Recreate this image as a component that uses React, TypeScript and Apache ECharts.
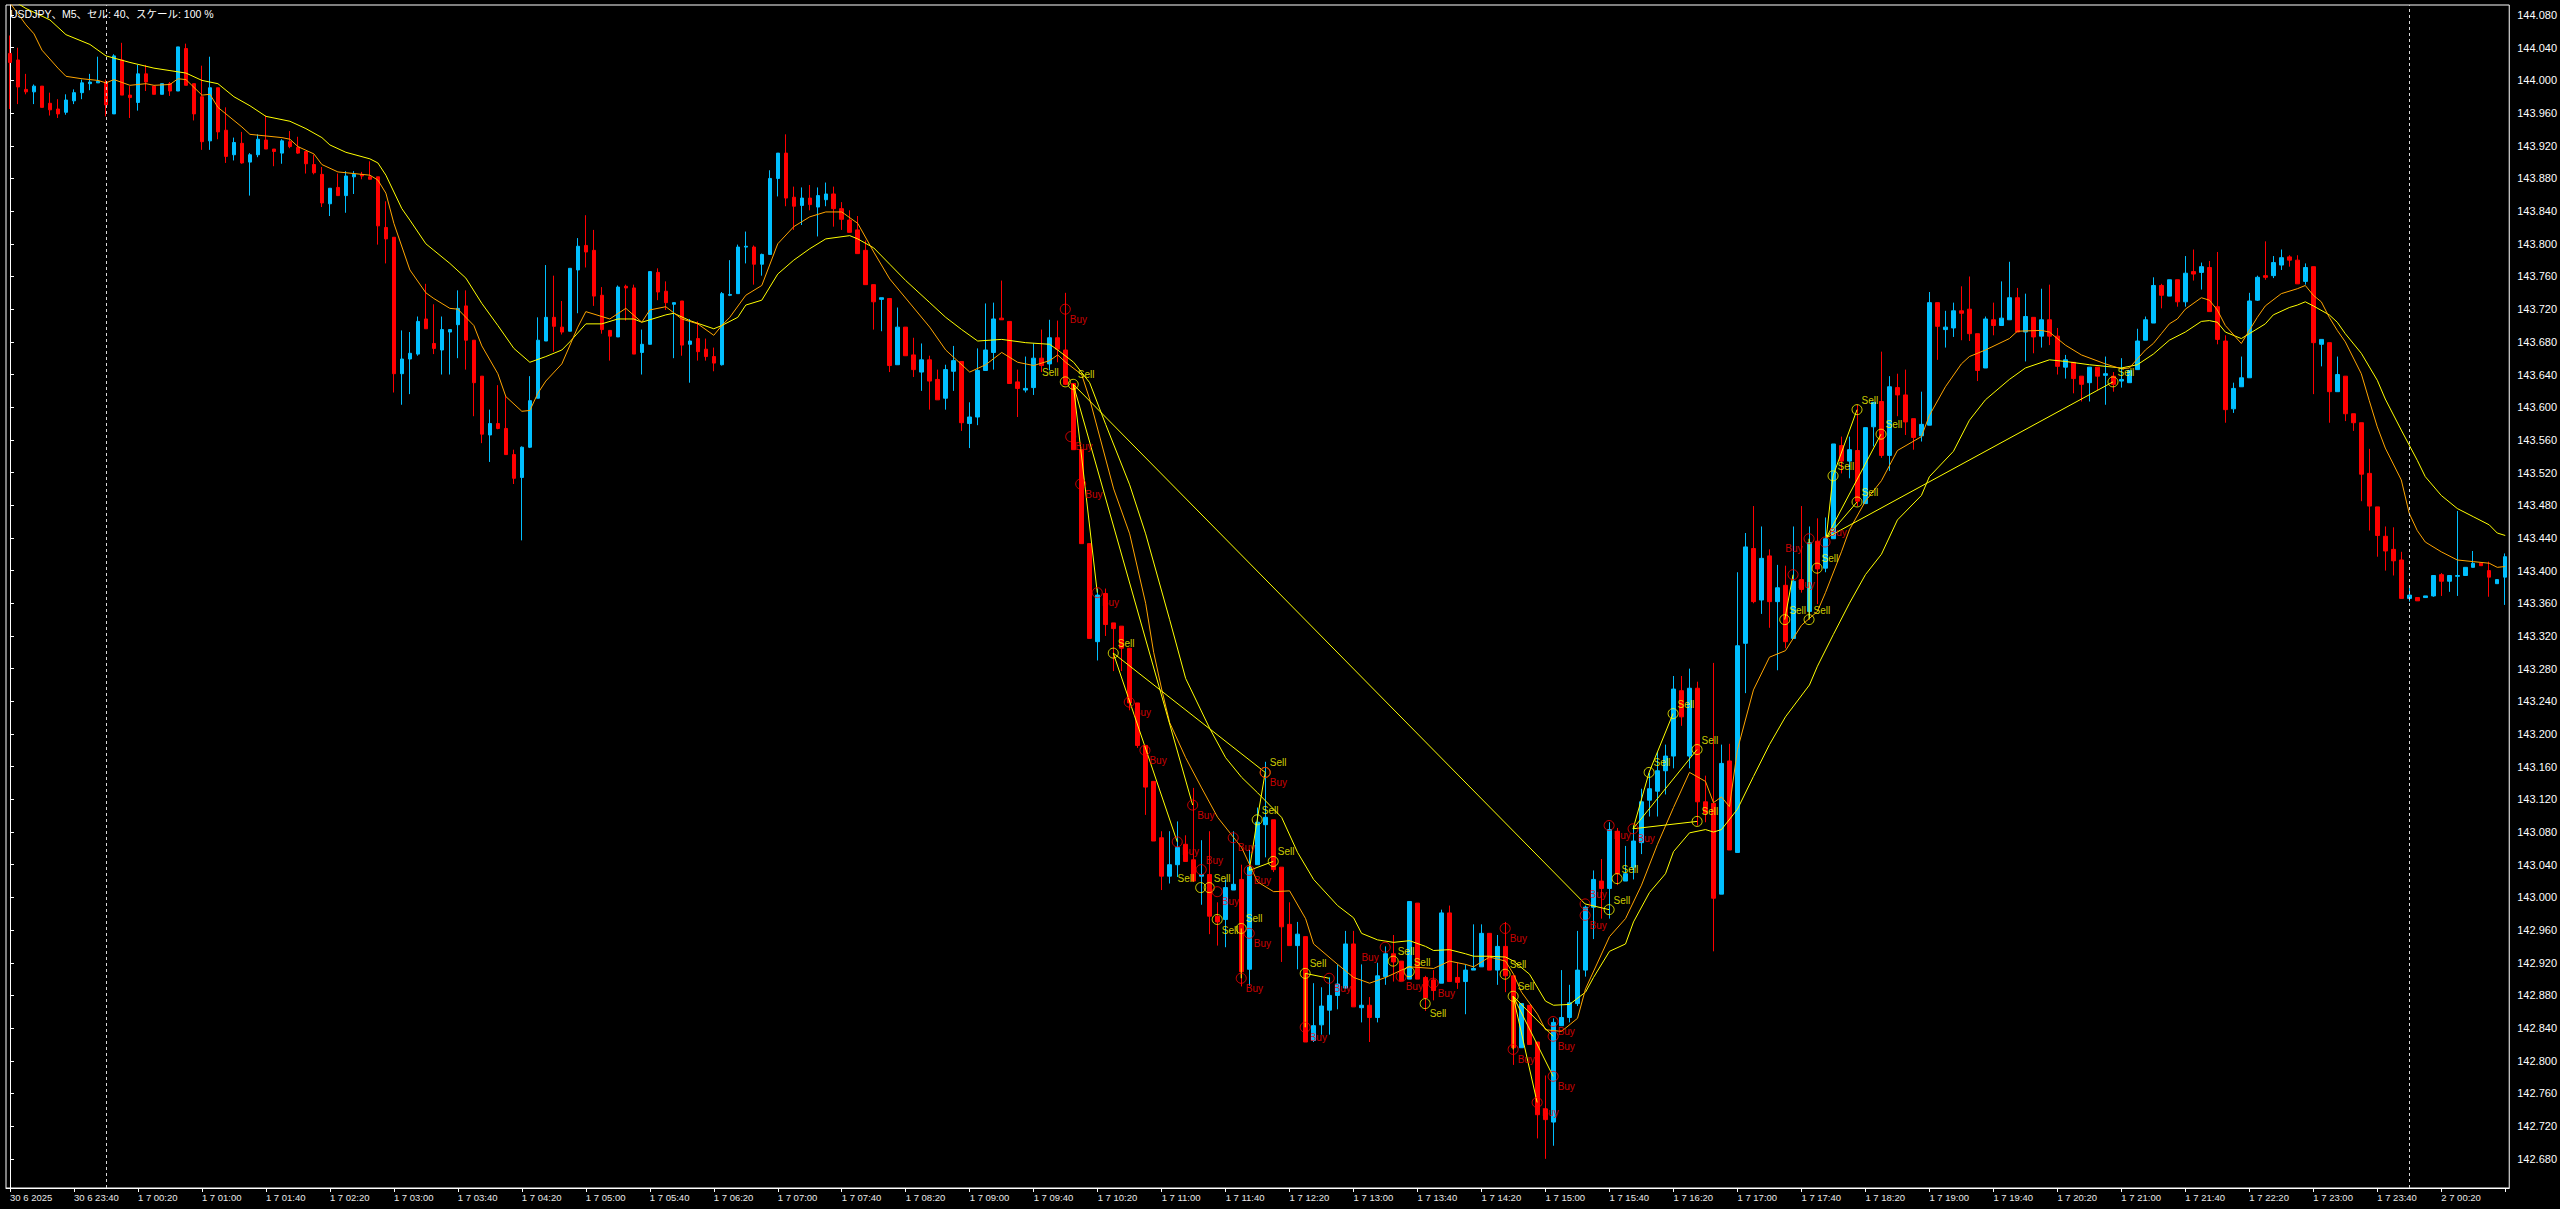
import React, { useEffect, useRef } from "react";
import * as echarts from "echarts";

// ---------- DATA ----------
const OPEN = [
144.033,144.025,143.989,143.986,143.993,143.972,143.965,143.961,143.975,143.985,143.996,143.997,143.998,143.959,144.025,143.982,143.973,144.008,143.993,143.983,
143.996,143.987,144.039,143.996,143.980,143.926,143.991,143.939,143.909,143.923,143.900,143.909,143.927,143.916,143.911,143.925,143.918,143.913,143.897,143.885,
143.849,143.869,143.859,143.882,143.885,143.882,143.882,143.820,143.808,143.641,143.659,143.665,143.708,143.678,143.670,143.692,143.701,143.724,143.682,143.638,
143.566,143.580,143.574,143.542,143.514,143.551,143.611,143.681,143.710,143.698,143.693,143.768,143.798,143.792,143.737,143.694,143.686,143.748,143.746,143.667,
143.677,143.765,143.742,143.726,143.730,143.677,143.684,143.671,143.662,143.652,143.737,143.739,143.796,143.796,143.775,143.787,143.880,143.911,143.857,143.847,
143.856,143.845,143.854,143.861,143.843,143.829,143.817,143.792,143.750,143.732,143.733,143.652,143.698,143.664,143.643,143.658,143.634,143.611,143.644,143.656,
143.580,143.588,143.645,143.667,143.709,143.705,143.631,143.621,143.624,143.660,143.653,143.685,143.670,143.629,143.548,143.433,143.313,143.372,143.336,143.332,
143.305,143.238,143.186,143.142,143.073,143.026,143.040,143.065,143.046,143.026,143.028,142.977,142.973,143.009,143.022,142.912,143.040,143.089,143.095,143.037,
142.967,142.941,142.952,142.825,142.844,142.862,142.880,142.889,142.943,142.865,142.868,142.853,142.903,142.931,142.922,142.900,142.993,142.902,142.899,142.895,
142.981,142.902,142.897,142.911,142.915,142.956,142.911,142.940,142.904,142.816,142.868,142.823,142.741,142.725,142.843,142.853,142.870,142.911,142.988,143.020,
143.011,143.081,143.020,143.037,143.067,143.119,143.130,143.155,143.173,143.253,143.173,143.256,143.117,143.115,143.004,143.167,143.055,143.311,143.427,143.364,
143.418,143.362,143.382,143.317,143.389,143.350,143.436,143.403,143.439,143.553,143.534,143.547,143.482,143.576,143.607,143.541,143.624,143.615,143.586,143.565,
143.578,143.728,143.695,143.697,143.718,143.720,143.690,143.648,143.707,143.700,143.707,143.734,143.692,143.710,143.687,143.707,143.687,143.649,143.655,143.638,
143.630,143.649,143.639,143.638,143.632,143.630,143.646,143.682,143.703,143.749,143.736,143.756,143.729,143.766,143.765,143.771,143.723,143.681,143.598,143.625,
143.636,143.731,143.761,143.761,143.774,143.784,143.780,143.754,143.772,143.677,143.679,143.619,143.638,143.592,143.581,143.519,143.478,143.442,143.426,143.413,
143.366,143.367,143.367,143.369,143.395,143.387,143.393,143.394,143.404,143.409,143.400,143.384,143.392
];
const CLOSE = [
144.022,143.992,143.986,143.993,143.967,143.964,143.959,143.976,143.985,143.997,143.998,143.999,143.970,144.030,143.982,143.979,144.008,143.998,143.983,143.996,
143.987,144.041,143.994,143.959,143.925,143.991,143.937,143.907,143.924,143.899,143.909,143.928,143.916,143.913,143.926,143.919,143.911,143.898,143.887,143.850,
143.868,143.859,143.883,143.885,143.883,143.879,143.822,143.806,143.641,143.659,143.666,143.705,143.696,143.672,143.695,143.695,143.721,143.682,143.630,143.567,
143.580,143.574,143.542,143.513,143.551,143.608,143.682,143.710,143.699,143.692,143.770,143.797,143.790,143.736,143.695,143.687,143.747,143.746,143.665,143.677,
143.766,143.741,143.728,143.728,143.676,143.681,143.668,143.662,143.654,143.739,143.738,143.796,143.797,143.775,143.787,143.880,143.911,143.856,143.846,143.856,
143.848,143.859,143.861,143.843,143.830,143.814,143.788,143.750,143.729,143.734,143.651,143.698,143.663,143.646,143.658,143.632,143.609,143.646,143.657,143.581,
143.588,143.645,143.670,143.708,143.707,143.629,143.623,143.623,143.660,143.651,143.685,143.671,143.628,143.548,143.433,143.317,143.370,143.334,143.329,143.305,
143.238,143.186,143.135,143.069,143.026,143.040,143.061,143.044,143.020,143.028,142.977,142.970,143.012,143.016,142.909,143.037,143.092,143.098,143.034,142.964,
142.941,142.955,142.823,142.843,142.867,142.880,142.894,142.943,142.866,142.868,142.853,142.904,142.931,142.921,142.898,142.995,142.900,142.877,142.886,142.981,
142.897,142.896,142.911,142.913,142.956,142.911,142.940,142.904,142.816,142.870,142.820,142.734,142.728,142.847,142.853,142.871,142.911,142.988,143.022,143.011,
143.083,143.029,143.029,143.069,143.117,143.133,143.155,143.173,143.255,143.221,143.256,143.117,143.103,142.999,143.164,143.058,143.308,143.429,143.362,143.415,
143.362,143.379,143.313,143.387,143.377,143.434,143.402,143.439,143.555,143.534,143.548,143.485,143.575,143.606,143.541,143.625,143.615,143.582,143.563,143.579,
143.728,143.699,143.698,143.718,143.715,143.690,143.645,143.708,143.700,143.709,143.734,143.692,143.711,143.686,143.707,143.687,143.650,143.658,143.635,143.628,
143.649,143.638,143.641,143.628,143.634,143.645,143.681,143.707,143.749,143.737,143.756,143.729,143.764,143.763,143.772,143.717,143.683,143.597,143.623,143.636,
143.730,143.759,143.759,143.777,143.783,143.780,143.751,143.771,143.679,143.683,143.619,143.640,143.592,143.581,143.518,143.479,143.443,143.424,143.412,143.366,
143.370,143.363,143.369,143.394,143.387,143.394,143.394,143.404,143.409,143.406,143.392,143.389,143.417
];
const LOW = [
143.965,143.971,143.983,143.971,143.967,143.957,143.954,143.958,143.971,143.977,143.988,143.997,143.956,143.959,143.982,143.954,143.963,143.987,143.983,143.983,
143.981,143.987,143.994,143.951,143.915,143.915,143.928,143.899,143.902,143.898,143.859,143.906,143.916,143.895,143.898,143.917,143.910,143.886,143.885,143.845,
143.834,143.859,143.838,143.861,143.879,143.879,143.799,143.776,143.618,143.603,143.616,143.663,143.696,143.665,143.640,143.640,143.660,143.646,143.589,143.556,
143.533,143.573,143.542,143.506,143.437,143.550,143.611,143.681,143.668,143.689,143.693,143.715,143.771,143.724,143.690,143.657,143.686,143.706,143.665,143.640,
143.677,143.731,143.719,143.660,143.663,143.630,143.657,143.657,143.644,143.651,143.736,143.739,143.776,143.750,143.761,143.787,143.858,143.846,143.817,143.823,
143.841,143.809,143.846,143.821,143.817,143.814,143.788,143.750,143.695,143.693,143.643,143.652,143.663,143.637,143.620,143.597,143.609,143.597,143.620,143.571,
143.550,143.578,143.645,143.646,143.707,143.629,143.588,143.618,143.615,143.643,143.645,143.655,143.627,143.548,143.433,143.317,143.290,143.320,143.277,143.277,
143.229,143.183,143.101,143.069,143.009,143.017,143.025,143.044,143.020,142.991,142.955,142.941,142.939,143.009,142.891,142.892,143.040,143.049,143.031,142.921,
142.941,142.912,142.823,142.823,142.832,142.832,142.863,142.889,142.866,142.847,142.823,142.847,142.893,142.897,142.898,142.900,142.900,142.861,142.874,142.895,
142.897,142.888,142.857,142.911,142.915,142.911,142.893,142.884,142.795,142.816,142.820,142.705,142.680,142.696,142.843,142.847,142.867,142.903,142.949,142.974,
142.974,143.015,143.020,143.022,143.053,143.099,143.099,143.126,143.158,143.210,143.158,143.088,143.092,142.934,143.004,143.058,143.055,143.250,143.360,143.347,
143.330,143.278,143.305,143.317,143.373,143.342,143.359,143.398,143.439,143.519,143.513,143.479,143.482,143.552,143.538,143.522,143.589,143.566,143.548,143.558,
143.578,143.658,143.673,143.686,143.682,143.681,143.632,143.648,143.688,143.700,143.707,143.692,143.656,143.666,143.673,143.676,143.640,143.635,143.617,143.607,
143.607,143.621,143.603,143.619,143.624,143.630,143.646,143.682,143.703,143.721,143.736,143.723,143.723,143.755,143.744,143.717,143.677,143.581,143.593,143.625,
143.636,143.730,143.756,143.758,143.768,143.772,143.751,143.750,143.616,143.650,143.581,143.619,143.583,143.571,143.485,143.449,143.417,143.400,143.394,143.366,
143.362,143.363,143.367,143.368,143.369,143.374,143.369,143.394,143.404,143.406,143.368,143.384,143.358
];
const HIGH = [
144.055,144.040,144.008,143.995,143.993,143.985,143.977,143.983,143.989,144.001,144.008,144.029,144.001,144.032,144.046,143.993,144.019,144.019,143.993,143.996,
143.998,144.041,144.045,143.996,144.018,144.029,143.991,143.967,143.930,143.937,143.911,143.934,143.957,143.916,143.928,143.938,143.931,143.913,143.909,143.894,
143.868,143.886,143.889,143.889,143.888,143.901,143.882,143.852,143.808,143.694,143.692,143.711,143.751,143.726,143.711,143.695,143.743,143.743,143.682,143.638,
143.597,143.627,143.615,143.548,143.552,143.638,143.710,143.774,143.761,143.730,143.770,143.807,143.835,143.817,143.747,143.694,143.749,143.750,143.750,143.695,
143.766,143.770,143.754,143.728,143.730,143.708,143.705,143.684,143.673,143.741,143.780,143.799,143.815,143.798,143.788,143.890,143.911,143.934,143.870,143.869,
143.872,143.869,143.875,143.870,143.851,143.841,143.834,143.804,143.750,143.734,143.733,143.722,143.698,143.685,143.678,143.663,143.646,143.652,143.675,143.656,
143.606,143.672,143.727,143.728,143.755,143.705,143.646,143.662,143.678,143.695,143.707,143.706,143.740,143.629,143.548,143.433,143.378,143.378,143.336,143.332,
143.305,143.238,143.186,143.142,143.081,143.081,143.093,143.076,143.134,143.070,143.081,142.994,143.022,143.081,143.040,143.058,143.110,143.166,143.095,143.037,
142.994,142.970,142.952,142.895,142.890,142.902,142.918,142.959,142.959,142.918,142.878,142.920,142.940,142.954,142.922,142.995,142.993,142.904,142.911,142.985,
142.990,142.920,142.918,142.967,142.967,142.956,142.954,142.970,142.904,142.870,142.868,142.823,142.782,142.852,142.911,142.893,142.959,142.990,143.033,143.047,
143.092,143.085,143.063,143.088,143.133,143.153,143.178,143.187,143.271,143.271,143.280,143.264,143.149,143.287,143.187,143.188,143.398,143.446,143.479,143.454,
143.426,143.407,143.406,143.454,143.479,143.454,143.464,143.465,143.555,143.564,143.564,143.603,143.575,143.606,143.668,143.638,143.641,143.646,143.586,143.619,
143.741,143.728,143.718,143.728,143.748,143.760,143.690,143.711,143.728,143.754,143.778,143.746,143.739,143.710,143.745,143.750,143.697,143.664,143.655,143.638,
143.649,143.649,143.662,143.643,143.660,143.645,143.696,143.711,143.759,143.751,143.756,143.756,143.785,143.793,143.777,143.779,143.790,143.688,143.630,143.662,
143.740,143.761,143.803,143.785,143.793,143.786,143.786,143.776,143.772,143.683,143.679,143.662,143.638,143.592,143.581,143.549,143.478,143.454,143.453,143.423,
143.381,143.367,143.369,143.394,143.397,143.394,143.473,143.404,143.424,143.409,143.411,143.389,143.421
];

// one label every 8 bars (bar 0, 8, 16, ...)
const LABEL_STEP = 8;
const TIME_LABELS = [
  "30 6 2025", "30 6 23:40", "1 7 00:20", "1 7 01:00", "1 7 01:40", "1 7 02:20", "1 7 03:00", "1 7 03:40",
  "1 7 04:20", "1 7 05:00", "1 7 05:40", "1 7 06:20", "1 7 07:00", "1 7 07:40", "1 7 08:20", "1 7 09:00",
  "1 7 09:40", "1 7 10:20", "1 7 11:00", "1 7 11:40", "1 7 12:20", "1 7 13:00", "1 7 13:40", "1 7 14:20",
  "1 7 15:00", "1 7 15:40", "1 7 16:20", "1 7 17:00", "1 7 17:40", "1 7 18:20", "1 7 19:00", "1 7 19:40",
  "1 7 20:20", "1 7 21:00", "1 7 21:40", "1 7 22:20", "1 7 23:00", "1 7 23:40", "2 7 00:20"
];
const PRICE_TICKS = [
  142.68, 142.72, 142.76, 142.80, 142.84, 142.88, 142.92, 142.96, 143.00, 143.04, 143.08, 143.12,
  143.16, 143.20, 143.24, 143.28, 143.32, 143.36, 143.40, 143.44, 143.48, 143.52, 143.56, 143.60,
  143.64, 143.68, 143.72, 143.76, 143.80, 143.84, 143.88, 143.92, 143.96, 144.00, 144.04, 144.08
];
const Y_MIN = 142.6443;
const Y_MAX = 144.0923;
const DAY_SEPARATORS = [12, 300];

// moving averages: [bar index, value]
const MA_SLOW = [
[0,144.100],[2,144.088],[5,144.074],[7,144.056],[10,144.044],[12,144.030],[15,144.022],[18,144.015],[20,144.012],[22,144.009],[24,144.000],[26,143.996],[28,143.980],[30,143.969],[32,143.956],[35,143.950],[37,143.941],[39,143.930],[40,143.921],[42,143.912],[45,143.904],[46,143.899],[47,143.884],[49,143.843],[50,143.829],[52,143.800],[53,143.792],[55,143.776],[57,143.758],[59,143.727],[61,143.700],[63,143.672],[65,143.655],[67,143.662],[69,143.670],[70,143.680],[72,143.702],[74,143.702],[76,143.708],[78,143.708],[79,143.704],[82,143.713],[83,143.715],[85,143.706],[88,143.696],[89,143.700],[91,143.710],[92,143.725],[94,143.731],[96,143.763],[98,143.780],[100,143.794],[102,143.806],[105,143.810],[106,143.806],[108,143.795],[110,143.775],[112,143.755],[115,143.728],[117,143.710],[119,143.695],[121,143.681],[124,143.683],[127,143.679],[130,143.677],[131,143.670],[133,143.655],[135,143.630],[137,143.579],[140,143.505],[142,143.445],[145,143.340],[147,143.268],[150,143.207],[152,143.171],[154,143.147],[156,143.128],[159,143.098],[161,143.055],[163,143.022],[166,142.990],[168,142.975],[169,142.956],[171,142.948],[173,142.945],[175,142.947],[177,142.940],[178,142.935],[180,142.936],[182,142.931],[183,142.928],[185,142.928],[187,142.927],[188,142.922],[190,142.906],[192,142.873],[193,142.868],[195,142.869],[197,142.884],[198,142.902],[200,142.934],[202,142.943],[203,142.970],[205,143.006],[207,143.029],[208,143.056],[210,143.079],[212,143.083],[213,143.080],[214,143.083],[216,143.108],[218,143.148],[220,143.187],[222,143.221],[225,143.260],[226,143.283],[228,143.322],[230,143.360],[232,143.395],[234,143.420],[236,143.462],[239,143.492],[240,143.515],[243,143.546],[245,143.584],[247,143.609],[250,143.634],[252,143.648],[255,143.658],[257,143.656],[260,143.652],[262,143.650],[264,143.648],[266,143.652],[268,143.665],[270,143.682],[272,143.692],[274,143.705],[275,143.706],[276,143.704],[277,143.692],[279,143.684],[280,143.690],[282,143.702],[283,143.713],[285,143.722],[286,143.725],[287,143.729],[288,143.724],[290,143.713],[291,143.704],[292,143.690],[294,143.666],[296,143.633],[297,143.610],[299,143.572],[301,143.535],[302,143.515],[304,143.492],[306,143.476],[308,143.466],[310,143.456],[311,143.446],[312,143.443]
];
const MA_FAST = [
[0,144.095],[2,144.068],[3,144.057],[4,144.037],[6,144.015],[7,144.005],[9,144.002],[11,144.000],[12,143.997],[13,144.001],[15,143.994],[17,143.996],[18,143.994],[20,143.995],[21,144.002],[22,144.001],[24,143.982],[25,143.983],[26,143.967],[29,143.943],[30,143.934],[34,143.930],[35,143.928],[36,143.919],[38,143.910],[39,143.897],[41,143.888],[45,143.884],[46,143.878],[47,143.862],[48,143.825],[50,143.768],[52,143.740],[53,143.733],[55,143.721],[56,143.720],[58,143.700],[59,143.675],[61,143.641],[62,143.613],[64,143.595],[65,143.596],[66,143.617],[67,143.632],[69,143.653],[71,143.698],[72,143.717],[75,143.708],[77,143.721],[79,143.704],[80,143.719],[82,143.723],[84,143.708],[86,143.702],[88,143.688],[89,143.700],[90,143.710],[92,143.737],[94,143.749],[96,143.800],[98,143.821],[100,143.833],[102,143.839],[104,143.839],[106,143.825],[108,143.790],[110,143.757],[115,143.698],[117,143.670],[120,143.643],[122,143.652],[124,143.667],[126,143.655],[128,143.651],[130,143.657],[131,143.664],[132,143.655],[134,143.640],[135,143.610],[138,143.500],[140,143.445],[142,143.360],[143,143.300],[144,143.255],[145,143.214],[147,143.171],[149,143.134],[151,143.098],[154,143.061],[156,143.019],[158,143.007],[160,143.008],[162,142.974],[163,142.943],[166,142.918],[168,142.902],[170,142.895],[172,142.902],[174,142.911],[175,142.915],[178,142.913],[180,142.922],[182,142.918],[183,142.915],[185,142.927],[187,142.922],[188,142.906],[189,142.884],[191,142.857],[192,142.838],[194,142.836],[196,142.852],[197,142.888],[200,142.952],[202,142.974],[204,143.015],[206,143.065],[208,143.110],[210,143.153],[212,143.142],[213,143.116],[214,143.123],[215,143.111],[216,143.181],[218,143.254],[220,143.294],[222,143.302],[224,143.333],[226,143.350],[227,143.373],[229,143.423],[230,143.450],[232,143.485],[234,143.510],[236,143.547],[239,143.564],[240,143.590],[242,143.625],[244,143.653],[245,143.662],[247,143.670],[250,143.684],[251,143.693],[254,143.694],[255,143.692],[257,143.676],[259,143.664],[262,143.653],[264,143.647],[265,143.648],[267,143.670],[268,143.678],[269,143.690],[270,143.702],[271,143.708],[272,143.720],[274,143.734],[275,143.731],[276,143.719],[277,143.700],[279,143.678],[280,143.694],[281,143.710],[282,143.724],[284,143.739],[286,143.745],[287,143.749],[288,143.737],[289,143.729],[290,143.710],[291,143.694],[292,143.680],[294,143.641],[295,143.608],[296,143.576],[297,143.550],[299,143.511],[300,143.470],[301,143.449],[302,143.435],[304,143.423],[306,143.413],[308,143.411],[310,143.409],[311,143.404],[312,143.405]
];

// signal markers: [bar position, price]
const BUY_POINTS = [
[131.95,143.720],[132.63,143.564],[133.88,143.506],[135.95,143.373],[139.95,143.239],[141.91,143.180],[145.95,143.068],[147.88,143.113],[148.95,143.034],[150.95,143.007],[152.95,143.073],[153.95,142.901],[154.95,143.033],[154.95,142.956],[156.95,143.153],[161.95,142.841],[164.95,142.901],[171.95,142.939],[173.95,142.903],[177.95,142.895],[186.95,142.962],[187.95,142.814],[190.95,142.749],[192.95,142.848],[192.95,142.830],[192.95,142.781],[196.95,142.992],[196.95,142.978],[199.95,143.088],[202.95,143.084],[222.95,143.395],[224.95,143.439],[226.95,143.435]
];
const SELL_POINTS = [
[131.95,143.631],[132.95,143.628],[137.95,143.299],[148.88,143.012],[149.95,143.012],[150.95,142.973],[153.95,142.962],[155.95,143.095],[156.95,143.153],[157.95,143.044],[161.95,142.907],[172.95,142.922],[174.95,142.909],[176.95,142.870],[186.95,142.906],[187.95,142.879],[199.95,142.985],[200.95,143.023],[204.95,143.153],[207.95,143.225],[210.95,143.181],[210.95,143.093],[221.91,143.340],[224.95,143.340],[225.95,143.403],[227.95,143.516],[230.95,143.597],[233.95,143.567],[230.95,143.484],[262.95,143.631]
];
// straight signal lines (polylines of [bar position, price])
const SIGNAL_LINES = [
[[132.95,143.628],[196.95,142.992]],
[[132.95,143.628],[135.95,143.373]],
[[132.95,143.628],[147.88,143.113]],
[[137.95,143.299],[145.95,143.068]],
[[137.95,143.299],[156.95,143.153]],
[[153.95,142.962],[153.95,142.901]],
[[154.95,143.033],[155.95,143.095],[156.95,143.153]],
[[154.95,143.033],[157.95,143.044]],
[[161.95,142.907],[161.95,142.841]],
[[161.95,142.907],[164.95,142.901]],
[[187.95,142.879],[190.95,142.749]],
[[187.95,142.879],[192.95,142.781]],
[[187.95,142.879],[192.95,142.830]],
[[187.95,142.879],[187.95,142.814]],
[[196.95,142.992],[199.95,142.985]],
[[202.95,143.084],[204.95,143.153],[207.95,143.225]],
[[202.95,143.084],[210.95,143.181]],
[[202.95,143.084],[210.95,143.093]],
[[227.1,143.440],[227.95,143.516],[230.95,143.597]],
[[227.1,143.440],[233.95,143.567]],
[[227.1,143.440],[230.95,143.484]],
[[227.1,143.440],[262.95,143.631]],
[[222.95,143.395],[221.91,143.340]],
[[224.95,143.439],[224.95,143.340]]
];

// ---------- STYLE ----------
const FONT = '"Liberation Sans", Arial, "Noto Sans CJK JP", sans-serif';
// label placements relative to the 10px marker box
const PLACE: Record<string, { position: number[]; align: string }> = {
  rightAbove: { position: [10, -4], align: "left" },
  rightBelow: { position: [10, 15.5], align: "left" },
  rightBelowFar: { position: [10, 17], align: "left" },
  leftAbove: { position: [-1, -4], align: "right" },
  leftBelow: { position: [-1, 15.5], align: "right" },
};
// per-marker placement overrides (by index) so that crowded labels do not collide
const SELL_PLACE_OVERRIDE: Record<number, string> = { 0: "leftAbove", 3: "leftAbove", 5: "rightBelowFar", 13: "rightBelow" };
const BUY_PLACE_OVERRIDE: Record<number, string> = { 8: "rightAbove", 17: "leftBelow", 26: "rightAbove", 31: "leftBelow", 32: "rightAbove" };

function markerData(points: number[][], defPlace: string, overrides: Record<number, string>) {
  return points.map((p, i) => {
    const pl = PLACE[overrides[i] ?? defPlace];
    return { value: p, label: { position: pl.position, align: pl.align } };
  });
}

export default function App() {
  const ref = useRef<HTMLDivElement>(null);
  useEffect(() => {
    document.body.style.margin = "0";
    document.body.style.background = "#000";
    const chart = echarts.init(ref.current as HTMLDivElement, null, { renderer: "svg" });
    const n = OPEN.length;
    const categories = OPEN.map((_, i) => String(i));
    const candles = OPEN.map((o, i) => [o, CLOSE[i], LOW[i], HIGH[i]]);
    const showEvery = (idx: number) => idx % LABEL_STEP === 0;

    chart.setOption({
      animation: false,
      backgroundColor: "#000000",
      graphic: [
        {
          type: "text",
          left: 10,
          top: 9,
          z: 100,
          style: {
            text: "USDJPY、M5、セル: 40、スケール: 100 %",
            fill: "#ffffff",
            font: `10.5px ${FONT}`,
          },
        },
      ],
      grid: {
        left: 6,
        top: 5,
        width: 2504,
        height: 1183,
        show: true,
        borderColor: "#ffffff",
        borderWidth: 1,
        backgroundColor: "#000000",
      },
      xAxis: [
        {
          type: "category",
          data: categories,
          boundaryGap: true,
          axisLine: { show: true, lineStyle: { color: "#ffffff", width: 1 } },
          axisTick: {
            show: true,
            alignWithLabel: true,
            interval: showEvery,
            length: 4,
            lineStyle: { color: "#ffffff" },
          },
          axisLabel: {
            show: true,
            interval: showEvery,
            formatter: (_v: string, idx: number) => TIME_LABELS[idx / LABEL_STEP] ?? "",
            align: "left",
            margin: 5,
            color: "#e8e8e8",
            fontSize: 9.5,
            fontFamily: FONT,
          },
          splitLine: { show: false },
        },
        {
          type: "value",
          min: -0.5,
          max: n - 0.5,
          show: false,
        },
      ],
      yAxis: {
        type: "value",
        position: "right",
        min: Y_MIN,
        max: Y_MAX,
        axisLine: { show: true, lineStyle: { color: "#ffffff" } },
        axisTick: {
          show: true,
          customValues: PRICE_TICKS,
          length: 4,
          lineStyle: { color: "#ffffff" },
        },
        axisLabel: {
          show: true,
          customValues: PRICE_TICKS,
          formatter: (v: number) => v.toFixed(3),
          color: "#ffffff",
          fontSize: 11,
          fontFamily: FONT,
          margin: 8,
        },
        splitLine: { show: false },
      },
      series: [
        {
          type: "candlestick",
          xAxisIndex: 0,
          yAxisIndex: 0,
          data: candles,
          barWidth: 4,
          itemStyle: {
            color: "#00BFFF",
            color0: "#FF0000",
            borderColor: "#00BFFF",
            borderColor0: "#FF0000",
            borderWidth: 1,
          },
          markLine: {
            silent: true,
            symbol: ["none", "none"],
            label: { show: false },
            lineStyle: { color: "#d8d8d8", type: [3, 3], width: 1 },
            data: DAY_SEPARATORS.map((i) => ({ xAxis: String(i) })),
          },
        },
        {
          type: "line",
          xAxisIndex: 1,
          yAxisIndex: 0,
          data: MA_SLOW,
          showSymbol: false,
          lineStyle: { color: "#FFFF00", width: 1 },
          z: 3,
        },
        {
          type: "line",
          xAxisIndex: 1,
          yAxisIndex: 0,
          data: MA_FAST,
          showSymbol: false,
          lineStyle: { color: "#FFA500", width: 1 },
          z: 3,
        },
        {
          type: "lines",
          coordinateSystem: "cartesian2d",
          xAxisIndex: 1,
          yAxisIndex: 0,
          polyline: true,
          data: SIGNAL_LINES.map((coords) => ({ coords })),
          lineStyle: { color: "#FFFF00", width: 1, opacity: 1 },
          z: 4,
        },
        {
          type: "scatter",
          xAxisIndex: 1,
          yAxisIndex: 0,
          data: markerData(SELL_POINTS, "rightAbove", SELL_PLACE_OVERRIDE),
          symbol: "circle",
          symbolSize: 10,
          itemStyle: { color: "rgba(0,0,0,0)", borderColor: "#FFFF00", borderWidth: 1 },
          label: {
            show: true,
            formatter: "Sell",
            verticalAlign: "middle",
            color: "#FFFF00",
            fontSize: 10,
            fontFamily: FONT,
          },
          z: 5,
        },
        {
          type: "scatter",
          xAxisIndex: 1,
          yAxisIndex: 0,
          data: markerData(BUY_POINTS, "rightBelow", BUY_PLACE_OVERRIDE),
          symbol: "circle",
          symbolSize: 10,
          itemStyle: { color: "rgba(0,0,0,0)", borderColor: "#FF0000", borderWidth: 1 },
          label: {
            show: true,
            formatter: "Buy",
            verticalAlign: "middle",
            color: "#FF0000",
            fontSize: 10,
            fontFamily: FONT,
          },
          z: 5,
        },
      ],
    });
    return () => chart.dispose();
  }, []);
  return (
    <div
      ref={ref}
      style={{ position: "absolute", left: 0, top: 0, width: 2560, height: 1209, background: "#000" }}
    />
  );
}
